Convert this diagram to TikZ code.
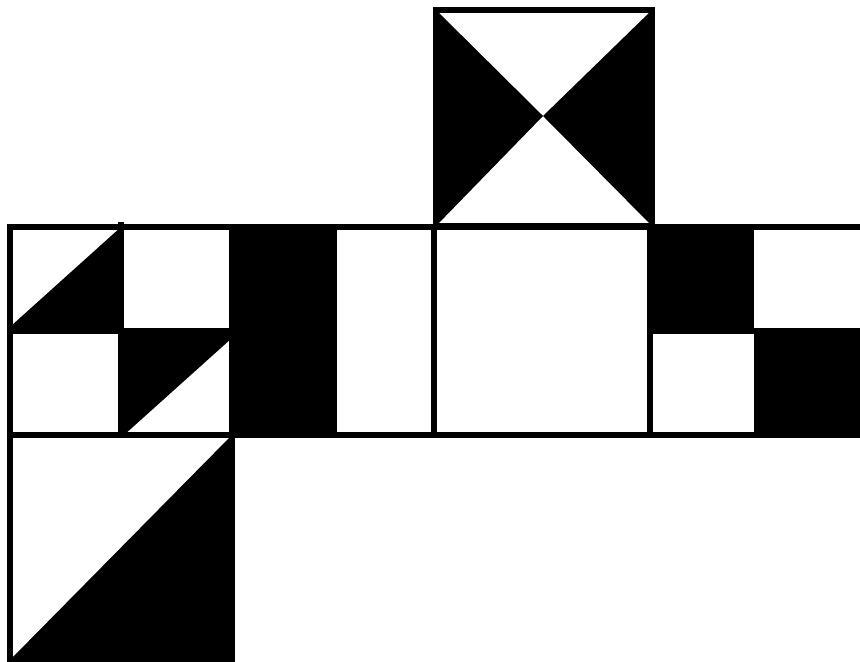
\documentclass[tikz,border=0pt]{standalone}
\begin{document}
\begin{tikzpicture}[x=0.5pt,y=-0.5pt,
  edge/.style={draw=black,line width=2.6pt,line join=miter},
  blk/.style={fill=black}]
\useasboundingbox (0,0) rectangle (860,662);
\clip (0,0) rectangle (860,662);
\fill[white] (0,0) rectangle (860,662);
% top square
\fill[blk] (436,10) -- (543,116) -- (436,226) -- cycle;
\fill[blk] (652,10) -- (543,116) -- (652,226) -- cycle;
\draw[edge] (436,10) rectangle (652,226);
% square A
\fill[blk] (11,326) -- (121,227) -- (121,331) -- (11,331) -- cycle;
\fill[blk] (121,331) -- (232,331) -- (232,338) -- (124,435) -- (121,435) -- cycle;
% square B
\fill[blk] (232,227) rectangle (334,435);
% square D
\fill[blk] (650,227) rectangle (754,331);
\fill[blk] (754,331) rectangle (866,435);
% bottom square
\fill[blk] (10,660) -- (232,435) -- (232,660) -- cycle;
% outlines
\draw[edge] (10,227) rectangle (866,435);
\draw[edge] (121,222) -- (121,438);
\draw[edge] (10,331) -- (232,331);
\draw[edge] (232,227) -- (232,435);
\draw[edge] (334,227) -- (334,435);
\draw[edge] (434,227) -- (434,435);
\draw[edge] (650,227) -- (650,435);
\draw[edge] (650,331) -- (866,331);
\draw[edge] (10,435) rectangle (232,660);
\end{tikzpicture}
\end{document}
